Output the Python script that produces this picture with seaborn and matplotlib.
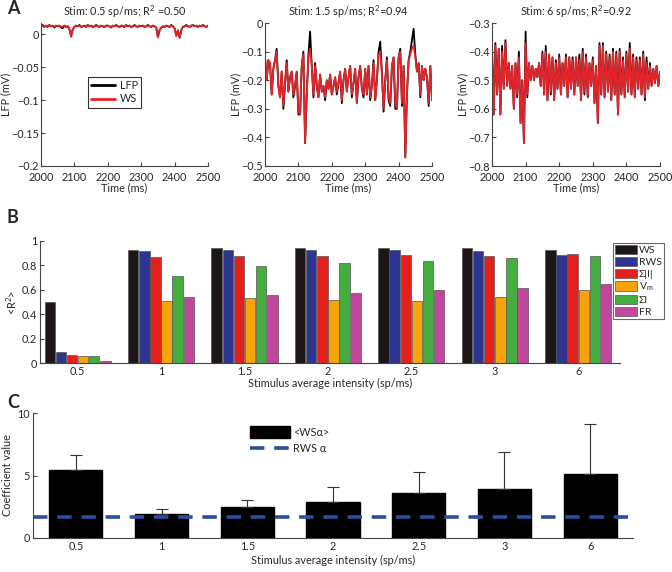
import numpy as np
import pandas as pd
import matplotlib
matplotlib.use("Agg")
import matplotlib.pyplot as plt
import seaborn as sns
from matplotlib.patches import Patch
from matplotlib.lines import Line2D
from matplotlib.ticker import FuncFormatter

# =========================
# DATA
# =========================
# panel A: sampled every 5 ms from 2000 to 2500 ms
time_ms = np.arange(2000, 2505, 5)

lfp_05 = [0.012, 0.014, 0.011, 0.013, 0.011, 0.014, 0.012, 0.013, 0.010, 0.013,
          0.012, 0.013, 0.010, 0.009, 0.013, 0.011, 0.012, 0.008, -0.003, 0.007,
          0.011, 0.013, 0.012, 0.014, 0.011, 0.012, 0.013, 0.011, 0.014, 0.012,
          0.013, 0.011, 0.012, 0.014, 0.012, 0.011, 0.013, 0.012, 0.011, 0.013,
          0.013, 0.012, 0.010, 0.013, 0.012, 0.014, 0.012, 0.011, 0.013, 0.012,
          0.011, 0.014, 0.012, 0.013, 0.011, 0.012, 0.014, 0.012, 0.011, 0.013,
          0.012, 0.013, 0.011, 0.012, 0.014, 0.012, 0.011, 0.013, 0.012, 0.010,
          -0.004, 0.006, 0.010, 0.012, 0.011, 0.013, 0.012, 0.011, 0.014, 0.012,
          0.009, -0.002, 0.006, -0.005, 0.006, 0.011, 0.012, 0.014, 0.012, 0.011,
          0.013, 0.014, 0.012, 0.013, 0.011, 0.013, 0.012, 0.014, 0.012, 0.011,
          0.013]
ws_05 = [0.012, 0.013, 0.011, 0.013, 0.012, 0.014, 0.012, 0.013, 0.011, 0.013,
         0.012, 0.013, 0.011, 0.012, 0.013, 0.011, 0.012, 0.008, -0.004, 0.007,
         0.011, 0.013, 0.012, 0.013, 0.011, 0.012, 0.013, 0.012, 0.014, 0.012,
         0.013, 0.011, 0.012, 0.013, 0.012, 0.011, 0.013, 0.012, 0.011, 0.012,
         0.013, 0.012, 0.011, 0.013, 0.012, 0.014, 0.012, 0.011, 0.013, 0.012,
         0.011, 0.013, 0.012, 0.013, 0.011, 0.012, 0.013, 0.012, 0.011, 0.013,
         0.012, 0.013, 0.011, 0.012, 0.013, 0.012, 0.011, 0.013, 0.012, 0.010,
         -0.005, 0.006, 0.010, 0.012, 0.011, 0.013, 0.012, 0.011, 0.013, 0.012,
         0.009, -0.003, 0.006, -0.006, 0.006, 0.011, 0.012, 0.013, 0.012, 0.011,
         0.013, 0.014, 0.012, 0.013, 0.011, 0.013, 0.012, 0.013, 0.012, 0.011,
         0.013]

ws_15 = [-0.12, -0.20, -0.13, -0.14, -0.25, -0.16, -0.13, -0.10, -0.22, -0.26,
         -0.17, -0.29, -0.21, -0.14, -0.24, -0.19, -0.17, -0.25, -0.22, -0.17,
         -0.31, -0.32, -0.15, -0.11, -0.42, -0.25, -0.12, -0.09, -0.15, -0.25,
         -0.15, -0.22, -0.26, -0.18, -0.24, -0.22, -0.26, -0.20, -0.23, -0.18,
         -0.25, -0.22, -0.19, -0.24, -0.21, -0.17, -0.27, -0.20, -0.16, -0.24,
         -0.19, -0.15, -0.25, -0.21, -0.16, -0.28, -0.19, -0.15, -0.23, -0.25,
         -0.16, -0.25, -0.15, -0.26, -0.22, -0.14, -0.27, -0.20, -0.11, -0.10,
         -0.18, -0.30, -0.20, -0.13, -0.26, -0.28, -0.15, -0.12, -0.28, -0.30,
         -0.12, -0.10, -0.28, -0.15, -0.47, -0.25, -0.13, -0.11, -0.09, -0.08,
         -0.12, -0.17, -0.14, -0.25, -0.15, -0.20, -0.16, -0.19, -0.28, -0.15,
         -0.27]
lfp_15 = [-0.12, -0.20, -0.13, -0.14, -0.25, -0.16, -0.13, -0.09, -0.22, -0.26,
          -0.17, -0.30, -0.21, -0.13, -0.24, -0.19, -0.17, -0.26, -0.22, -0.17,
          -0.32, -0.32, -0.15, -0.10, -0.42, -0.25, -0.11, -0.03, -0.15, -0.26,
          -0.14, -0.22, -0.26, -0.18, -0.24, -0.22, -0.27, -0.20, -0.23, -0.18,
          -0.25, -0.22, -0.19, -0.25, -0.21, -0.17, -0.28, -0.20, -0.16, -0.24,
          -0.19, -0.15, -0.26, -0.21, -0.16, -0.28, -0.19, -0.15, -0.23, -0.26,
          -0.16, -0.25, -0.15, -0.27, -0.22, -0.13, -0.27, -0.20, -0.10, -0.065,
          -0.17, -0.31, -0.20, -0.12, -0.27, -0.29, -0.15, -0.12, -0.30, -0.30,
          -0.12, -0.09, -0.29, -0.15, -0.47, -0.25, -0.13, -0.10, -0.06, -0.02,
          -0.11, -0.17, -0.14, -0.26, -0.15, -0.20, -0.16, -0.19, -0.29, -0.15,
          -0.27]

ws_6 = [-0.40, -0.62, -0.38, -0.55, -0.39, -0.62, -0.40, -0.53, -0.37, -0.52,
        -0.44, -0.53, -0.45, -0.60, -0.44, -0.55, -0.42, -0.65, -0.50, -0.72,
        -0.37, -0.55, -0.44, -0.50, -0.45, -0.50, -0.46, -0.49, -0.44, -0.52,
        -0.41, -0.55, -0.40, -0.57, -0.41, -0.54, -0.42, -0.57, -0.44, -0.53,
        -0.42, -0.55, -0.44, -0.52, -0.42, -0.56, -0.42, -0.53, -0.43, -0.55,
        -0.42, -0.52, -0.43, -0.57, -0.40, -0.54, -0.42, -0.56, -0.44, -0.52,
        -0.43, -0.58, -0.45, -0.65, -0.38, -0.55, -0.38, -0.56, -0.41, -0.54,
        -0.42, -0.57, -0.40, -0.55, -0.41, -0.62, -0.40, -0.55, -0.43, -0.56,
        -0.41, -0.54, -0.39, -0.55, -0.42, -0.56, -0.43, -0.53, -0.43, -0.55,
        -0.41, -0.56, -0.44, -0.53, -0.45, -0.52, -0.46, -0.51, -0.45, -0.52,
        -0.47]
lfp_6 = [-0.38, -0.62, -0.37, -0.55, -0.39, -0.62, -0.38, -0.53, -0.36, -0.52,
         -0.44, -0.53, -0.45, -0.60, -0.44, -0.56, -0.40, -0.65, -0.50, -0.72,
         -0.33, -0.56, -0.44, -0.50, -0.45, -0.50, -0.46, -0.49, -0.44, -0.52,
         -0.40, -0.55, -0.38, -0.57, -0.41, -0.55, -0.42, -0.57, -0.43, -0.53,
         -0.41, -0.55, -0.44, -0.52, -0.41, -0.56, -0.42, -0.53, -0.42, -0.55,
         -0.42, -0.52, -0.41, -0.57, -0.39, -0.55, -0.41, -0.56, -0.44, -0.52,
         -0.42, -0.58, -0.45, -0.65, -0.37, -0.55, -0.37, -0.56, -0.40, -0.54,
         -0.41, -0.57, -0.39, -0.55, -0.40, -0.62, -0.39, -0.55, -0.42, -0.56,
         -0.40, -0.54, -0.37, -0.55, -0.41, -0.56, -0.42, -0.53, -0.42, -0.55,
         -0.40, -0.57, -0.42, -0.53, -0.44, -0.52, -0.46, -0.51, -0.45, -0.52,
         -0.47]

# panel B
intensities = ["0.5", "1", "1.5", "2", "2.5", "3", "6"]
measures = ["WS", "RWS", "Σ|I|", "V$_\\mathrm{m}$", "ΣI", "FR"]
r2_ws = [0.50, 0.93, 0.94, 0.94, 0.94, 0.94, 0.93]
r2_rws = [0.087, 0.915, 0.93, 0.93, 0.925, 0.92, 0.883]
r2_sum_abs_i = [0.066, 0.866, 0.874, 0.88, 0.883, 0.877, 0.893]
r2_vm = [0.06, 0.508, 0.536, 0.516, 0.505, 0.541, 0.598]
r2_sum_i = [0.055, 0.716, 0.792, 0.822, 0.836, 0.858, 0.874]
r2_fr = [0.019, 0.541, 0.56, 0.571, 0.598, 0.612, 0.648]
measure_colors = ["#1c1616", "#2e3590", "#e3201b", "#f7a40a", "#45ad3f", "#c2479c"]

# panel C
ws_alpha = [5.48, 1.89, 2.47, 2.90, 3.59, 3.96, 5.11]
ws_alpha_err = [1.20, 0.40, 0.59, 1.17, 1.73, 2.95, 3.99]
rws_alpha = 1.70

# =========================
# STYLE
# =========================
sns.set_style("white")
plt.rcParams["font.family"] = ["Lato", "DejaVu Sans"]
plt.rcParams["mathtext.fontset"] = "custom"
plt.rcParams["mathtext.rm"] = "Lato"
plt.rcParams["font.size"] = 7.8
plt.rcParams["axes.edgecolor"] = "#444444"
plt.rcParams["axes.linewidth"] = 0.8
plt.rcParams["xtick.direction"] = "in"
plt.rcParams["ytick.direction"] = "in"
plt.rcParams["xtick.major.size"] = 3
plt.rcParams["ytick.major.size"] = 3
plt.rcParams["xtick.bottom"] = True
plt.rcParams["ytick.left"] = True

W, H = 672, 572
fig = plt.figure(figsize=(W / 100, H / 100), dpi=100)


def px_axes(left, right, top, bottom):
    return fig.add_axes([left / W, 1 - bottom / H, (right - left) / W, (bottom - top) / H])


def clean(ax):
    sns.despine(ax=ax)
    ax.tick_params(labelsize=7.8, pad=2, color="#444444")


minus_fmt = FuncFormatter(lambda v, p: f"{v:g}".replace("-", "\u2212"))

# =========================
# PANEL A
# =========================
lfp_color = "black"
ws_color = "#e3252b"
panels = [
    (41, 208, lfp_05, ws_05, (-0.2, 0.017), [-0.2, -0.15, -0.1, -0.05, 0],
     "Stim: 0.5 sp/ms; R$^2$ =0.50"),
    (265, 432, lfp_15, ws_15, (-0.5, 0.0), [-0.5, -0.4, -0.3, -0.2, -0.1, 0],
     "Stim: 1.5 sp/ms; R$^2$=0.94"),
    (492, 660, lfp_6, ws_6, (-0.8, -0.3), [-0.8, -0.7, -0.6, -0.5, -0.4, -0.3],
     "Stim: 6 sp/ms; R$^2$=0.92"),
]
for i, (l, r, lfp, ws, ylim, yt, title) in enumerate(panels):
    ax = px_axes(l, r, 23, 166)
    sns.lineplot(x=time_ms, y=lfp, color=lfp_color, lw=1.3, ax=ax, label="LFP")
    sns.lineplot(x=time_ms, y=ws, color=ws_color, lw=1.3, ax=ax, label="WS")
    ax.set_xlim(2000, 2500)
    ax.set_ylim(*ylim)
    ax.set_xticks([2000, 2100, 2200, 2300, 2400, 2500])
    ax.set_yticks(yt)
    ax.yaxis.set_major_formatter(minus_fmt)
    ax.set_title(title, fontsize=7.8, pad=5)
    ax.set_xlabel("Time (ms)", labelpad=0)
    ax.set_ylabel("LFP (mV)", labelpad=0)
    clean(ax)
    ax.tick_params(axis="x", pad=4)
    ax.tick_params(axis="y", pad=1.5)
    if i == 0:
        leg = ax.legend(loc="upper left", bbox_to_anchor=(0.25, 0.66), frameon=True,
                        fontsize=7.8, handlelength=2.2, borderpad=0.3,
                        labelspacing=0.2, handletextpad=0.4, fancybox=False)
        leg.get_frame().set_edgecolor("black")
        leg.get_frame().set_linewidth(0.8)
        for h in leg.get_lines():
            h.set_linewidth(2)
    else:
        ax.get_legend().remove()

# =========================
# PANEL B
# =========================
r2_table = pd.DataFrame({
    "intensity": intensities * 6,
    "measure": sum([[m] * 7 for m in measures], []),
    "r2": r2_ws + r2_rws + r2_sum_abs_i + r2_vm + r2_sum_i + r2_fr,
})

axb = px_axes(40, 620, 241, 363)
sns.barplot(data=r2_table, x="intensity", y="r2", hue="measure",
            palette=measure_colors, saturation=1, width=0.8, gap=0.06,
            edgecolor="#555555", linewidth=0.5, errorbar=None, ax=axb)
axb.set_xlim(-0.45, 6.5)
axb.set_ylim(0, 1)
axb.set_yticks([0, 0.2, 0.4, 0.6, 0.8, 1])
axb.yaxis.set_major_formatter(FuncFormatter(lambda v, p: f"{v:g}"))
axb.set_xlabel("Stimulus average intensity (sp/ms)", labelpad=1)
axb.set_ylabel("<R$^2$>", labelpad=2)
axb.tick_params(axis="x", length=0)
clean(axb)
leg = axb.legend(loc="upper left", bbox_to_anchor=(0.985, 1.0), frameon=True,
                 fontsize=7.5, handlelength=2.1, handleheight=1.0, borderpad=0.2,
                 labelspacing=0.15, handletextpad=0.15, borderaxespad=0.2,
                 fancybox=False, title=None)
leg.get_frame().set_edgecolor("#444444")
leg.get_frame().set_linewidth(0.8)

# =========================
# PANEL C
# =========================
alpha_table = pd.DataFrame({"intensity": intensities, "alpha": ws_alpha})

axc = px_axes(33, 633, 413, 538)
sns.barplot(data=alpha_table, x="intensity", y="alpha", color="black",
            width=0.62, errorbar=None, ax=axc, edgecolor="black", saturation=1)
centers = [p.get_x() + p.get_width() / 2 for p in axc.patches]
axc.errorbar(centers, ws_alpha, yerr=[[0] * 7, ws_alpha_err], fmt="none",
             ecolor="#333333", elinewidth=0.8, capsize=4, capthick=0.8)
axc.axhline(rws_alpha, color="#2d4d9e", lw=2.6, ls=(0, (4, 2.7)))
axc.set_xlim(-0.5, 6.5)
axc.set_ylim(0, 10)
axc.set_yticks([0, 5, 10])
axc.set_xlabel("Stimulus average intensity (sp/ms)", labelpad=2)
axc.set_ylabel("Coefficient value", labelpad=3)
axc.tick_params(axis="x", length=0)
clean(axc)
handles = [Patch(facecolor="black", edgecolor="black"),
           Line2D([0], [0], color="#2d4d9e", lw=2.6, ls=(0, (4, 2.7)))]
axc.legend(handles, ["<WSα>", "RWS α"], loc="upper left", bbox_to_anchor=(0.345, 0.97),
           frameon=False, fontsize=7.8, handlelength=3.7, handleheight=1.2,
           labelspacing=0.5, handletextpad=0.3)

# panel letters
for letter, ypx in [("A", 9), ("B", 218), ("C", 402)]:
    fig.text(7 / W, 1 - ypx / H, letter, fontsize=13, fontweight="bold",
             va="center", ha="left")

fig.savefig("out.png", dpi=100)
